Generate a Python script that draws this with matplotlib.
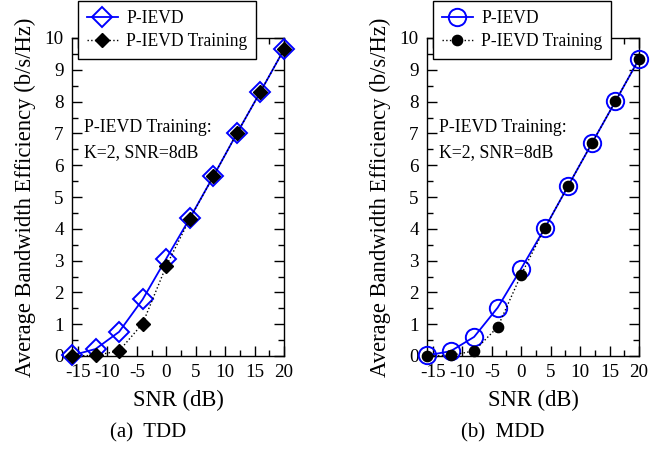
import matplotlib
matplotlib.use("Agg")
import matplotlib.pyplot as plt
from matplotlib.ticker import MultipleLocator

plt.rcParams['font.family'] = ['Liberation Serif', 'DejaVu Serif']

snr = [-16, -12, -8, -4, 0, 4, 8, 12, 16, 20]
tdd_pievd = [0.02, 0.22, 0.76, 1.78, 3.06, 4.33, 5.65, 7.0, 8.31, 9.64]
tdd_train = [0.0, 0.02, 0.16, 1.02, 2.83, 4.31, 5.65, 7.0, 8.31, 9.64]
mdd_pievd = [0.02, 0.15, 0.6, 1.52, 2.75, 4.02, 5.36, 6.69, 8.01, 9.34]
mdd_train = [0.0, 0.02, 0.16, 0.91, 2.56, 4.02, 5.36, 6.69, 8.01, 9.34]

xticks = [-15, -10, -5, 0, 5, 10, 15, 20]
xticklabels = ['-15', '-10', '-5', '0', '5', '10', '15', '20']
yticks = list(range(0, 11))
legend_labels = ['P-IEVD', 'P-IEVD Training']
note = ['P-IEVD Training:', 'K=2, SNR=8dB']
captions = ['(a)  TDD', '(b)  MDD']

W, H = 667, 449
fig = plt.figure(figsize=(W / 100, H / 100), dpi=100)

panels = [
    (72, tdd_pievd, tdd_train, 'D', 9.8, 'D', 7.6, 78, captions[0]),
    (427, mdd_pievd, mdd_train, 'o', 12.5, 'o', 7.4, 433, captions[1]),
]

for left, yp, yt, m1, ms1, m2, ms2, legx, cap in panels:
    ax = fig.add_axes([left / W, (H - 356) / H, 212 / W, 318 / H])
    l1, = ax.plot(snr, yp, color='#0000ff', lw=1.3, marker=m1, ms=ms1,
                  mfc='none', mec='#0000ff', mew=1.4, zorder=3, clip_on=False)
    l2, = ax.plot(snr, yt, color='black', lw=1.0, ls=':', marker=m2, ms=ms2,
                  mfc='black', mec='black', zorder=4, clip_on=False)
    ax.set_xlim(-16, 20)
    ax.set_ylim(0, 10)
    ax.set_xticks(xticks)
    ax.set_xticklabels(xticklabels)
    ax.set_yticks(yticks)
    ax.xaxis.set_minor_locator(MultipleLocator(2.5))
    ax.yaxis.set_minor_locator(MultipleLocator(0.5))
    ax.tick_params(which='both', direction='in', top=True, right=True,
                   labelsize=13.8, width=1.0)
    ax.tick_params(which='major', length=7, pad=6)
    ax.tick_params(which='minor', length=4)
    for s in ax.spines.values():
        s.set_linewidth(1.0)
    ax.set_xlabel('SNR (dB)', fontsize=16.3, labelpad=6)
    ax.set_ylabel('Average Bandwidth Efficiency (b/s/Hz)', fontsize=16.3, labelpad=6)
    ax.text(-14, 7.2, note[0], fontsize=12.8, va='center', ha='left')
    ax.text(-14, 6.4, note[1], fontsize=12.8, va='center', ha='left')
    leg = fig.legend([l1, l2], legend_labels, loc='upper left',
                     bbox_to_anchor=(legx / W, 1 - 1 / H),
                     bbox_transform=fig.transFigure, borderaxespad=0,
                     fontsize=12.65, numpoints=1, handlelength=1.75,
                     handletextpad=0.5, labelspacing=0.35, borderpad=0.5,
                     fancybox=False, framealpha=1, edgecolor='black')
    leg.get_frame().set_linewidth(1.0)
    fig.text((left + 76) / W, 1 - 433 / H, cap, fontsize=15,
             ha='center', va='center')

fig.savefig('out.png', dpi=100)
